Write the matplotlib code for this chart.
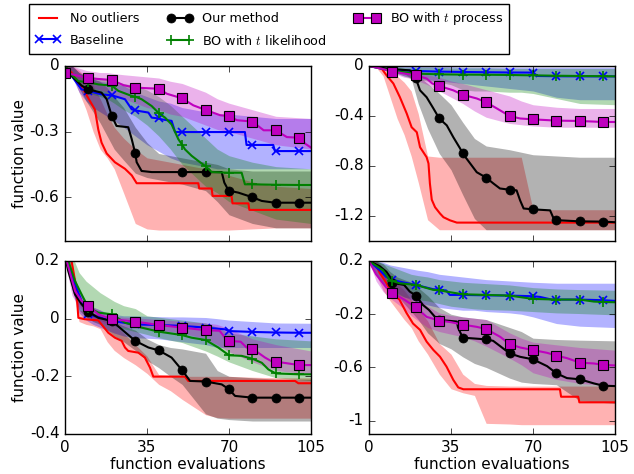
import numpy as np
import matplotlib.pyplot as plt
from matplotlib.ticker import FormatStrFormatter

# evaluation counts at which the shaded bands are sampled (shared by all panels)
BAND_X = [0, 3, 6, 9, 12, 15, 18, 21, 25, 30, 35, 40, 45, 50, 60, 65, 70, 80, 90, 105]

LABELS = ['No outliers', 'Baseline', 'Our method',
          'BO with $t$ likelihood', 'BO with $t$ process']

# ---------------- top left ----------------
A_RED_X = [0, 2.8, 8.5, 12.8, 14.2, 15.6, 17.8, 21.3, 25.6, 28.5, 30.6, 56.9, 57.3, 62.6, 63, 71.1, 71.5, 78.3, 78.7, 105]
A_RED_Y = [0, -0.03, -0.12, -0.2, -0.29, -0.35, -0.40, -0.44, -0.47, -0.50, -0.536, -0.536, -0.56, -0.56, -0.594, -0.594, -0.628, -0.628, -0.658, -0.658]
A_BLUE_X = [0, 2.8, 7.1, 10, 15.6, 20, 25.6, 28.5, 30, 35.6, 37, 40, 41.3, 45.5, 47, 50, 60, 70, 76.8, 77.5, 80, 88.9, 89.6, 90, 100, 105]
A_BLUE_Y = [0, -0.045, -0.107, -0.114, -0.13, -0.134, -0.152, -0.198, -0.203, -0.213, -0.236, -0.24, -0.244, -0.251, -0.302, -0.302, -0.302, -0.302, -0.302, -0.361, -0.361, -0.361, -0.389, -0.389, -0.389, -0.389]
A_BLACK_X = [0, 2.8, 7.1, 10, 15.6, 17.8, 20, 22, 27, 28.5, 30, 30.6, 32.7, 37, 50, 60, 66.9, 68, 69.7, 70, 74, 79.7, 80, 84, 89.6, 90, 100, 105]
A_BLACK_Y = [0, -0.045, -0.09, -0.107, -0.122, -0.152, -0.229, -0.274, -0.28, -0.335, -0.40, -0.44, -0.48, -0.485, -0.485, -0.485, -0.485, -0.533, -0.567, -0.57, -0.579, -0.599, -0.6, -0.617, -0.625, -0.625, -0.625, -0.625]
A_GREEN_X = [0, 2.8, 5.7, 10, 14.2, 20, 22.8, 28.5, 30, 32.7, 37, 39.8, 40, 42.7, 45.5, 48.4, 50, 51.2, 54.1, 56.9, 59.8, 60, 62.6, 70, 75.4, 76.8, 80, 90, 100, 105]
A_GREEN_Y = [0, -0.04, -0.069, -0.075, -0.084, -0.09, -0.114, -0.137, -0.14, -0.152, -0.183, -0.213, -0.216, -0.236, -0.267, -0.335, -0.36, -0.381, -0.411, -0.434, -0.457, -0.458, -0.485, -0.488, -0.488, -0.541, -0.541, -0.543, -0.544, -0.544]
A_MAG_X = [0, 10, 20, 25, 30, 40, 43.5, 50, 54.8, 60, 66.2, 70, 73.4, 80, 84.8, 90, 94.7, 100, 102.5, 105]
A_MAG_Y = [-0.03, -0.056, -0.064, -0.088, -0.099, -0.104, -0.127, -0.148, -0.18, -0.201, -0.225, -0.229, -0.248, -0.254, -0.294, -0.294, -0.325, -0.328, -0.355, -0.373]

A_RED_LO = [0, -0.04, -0.12, -0.2, -0.3, -0.38, -0.42, -0.47, -0.58, -0.72, -0.745, -0.75, -0.75, -0.75, -0.75, -0.75, -0.75, -0.745, -0.74, -0.74]
A_RED_HI = [0, 0, -0.02, -0.05, -0.09, -0.15, -0.22, -0.28, -0.33, -0.38, -0.42, -0.43, -0.44, -0.45, -0.47, -0.48, -0.5, -0.53, -0.55, -0.56]
A_BLUE_LO = [0, -0.05, -0.12, -0.16, -0.19, -0.21, -0.23, -0.25, -0.28, -0.32, -0.36, -0.39, -0.42, -0.44, -0.46, -0.47, -0.47, -0.47, -0.47, -0.47]
A_BLUE_HI = [0, 0, -0.03, -0.05, -0.06, -0.07, -0.075, -0.08, -0.09, -0.12, -0.14, -0.16, -0.17, -0.19, -0.21, -0.22, -0.22, -0.23, -0.24, -0.24]
A_BLACK_LO = [0, -0.03, -0.1, -0.16, -0.21, -0.26, -0.32, -0.38, -0.43, -0.49, -0.51, -0.52, -0.53, -0.54, -0.57, -0.62, -0.68, -0.72, -0.74, -0.74]
A_BLACK_HI = [0, 0, -0.03, -0.05, -0.06, -0.07, -0.1, -0.14, -0.19, -0.28, -0.35, -0.4, -0.41, -0.42, -0.44, -0.45, -0.47, -0.48, -0.48, -0.48]
A_GREEN_LO = [0, -0.04, -0.1, -0.12, -0.13, -0.14, -0.15, -0.17, -0.2, -0.23, -0.27, -0.32, -0.38, -0.45, -0.55, -0.58, -0.62, -0.66, -0.7, -0.72]
A_GREEN_HI = [0, 0, -0.03, -0.04, -0.05, -0.055, -0.06, -0.07, -0.08, -0.09, -0.11, -0.14, -0.18, -0.23, -0.33, -0.38, -0.41, -0.44, -0.46, -0.47]
A_MAG_LO = [-0.03, -0.05, -0.07, -0.09, -0.1, -0.11, -0.12, -0.13, -0.15, -0.17, -0.19, -0.2, -0.22, -0.23, -0.27, -0.29, -0.3, -0.33, -0.36, -0.38]
A_MAG_HI = [0, 0, -0.01, -0.02, -0.025, -0.03, -0.03, -0.035, -0.04, -0.045, -0.05, -0.055, -0.07, -0.08, -0.12, -0.15, -0.17, -0.2, -0.23, -0.24]

# ---------------- top right ----------------
B_RED_X = [0, 5, 7.5, 10.4, 13.2, 16.1, 18.2, 20.4, 21.8, 24.6, 25.4, 26, 26.8, 28.2, 30.3, 31.8, 34.6, 37.5, 105]
B_RED_Y = [0, -0.01, -0.075, -0.14, -0.25, -0.38, -0.49, -0.53, -0.65, -0.73, -0.78, -0.94, -1.07, -1.13, -1.18, -1.21, -1.235, -1.253, -1.253]
B_BLUE_X = [0, 5, 10, 14.7, 20, 30, 40, 50, 60, 70, 72, 80, 90, 100, 105]
B_BLUE_Y = [0, -0.02, -0.03, -0.035, -0.04, -0.045, -0.048, -0.05, -0.052, -0.053, -0.08, -0.082, -0.083, -0.083, -0.083]
B_BLACK_X = [0, 7.5, 10, 17.5, 20, 21.8, 24.6, 27.5, 30, 33.2, 36, 38.9, 40, 43.2, 46, 50, 53.1, 55.9, 60, 63, 64.5, 66, 70, 77.3, 78.8, 80, 81.5, 90, 100, 105]
B_BLACK_Y = [0, -0.02, -0.025, -0.035, -0.1, -0.195, -0.25, -0.34, -0.42, -0.475, -0.57, -0.66, -0.7, -0.78, -0.85, -0.893, -0.94, -0.98, -0.99, -0.995, -1.075, -1.14, -1.147, -1.155, -1.22, -1.23, -1.235, -1.243, -1.245, -1.25]
B_GREEN_X = [0, 5, 10, 15, 20, 30, 40, 50, 60, 70, 80, 90, 100, 105]
B_GREEN_Y = [0, -0.02, -0.04, -0.05, -0.061, -0.067, -0.069, -0.07, -0.072, -0.075, -0.078, -0.08, -0.082, -0.083]
B_MAG_X = [0, 5, 10, 15, 20, 24.6, 27, 30, 36, 40, 46, 50, 54.6, 60, 64.5, 70, 80, 90, 100, 105]
B_MAG_Y = [0, -0.02, -0.045, -0.06, -0.075, -0.10, -0.14, -0.16, -0.195, -0.23, -0.26, -0.29, -0.34, -0.40, -0.42, -0.427, -0.437, -0.44, -0.448, -0.448]

B_RED_LO = [0, -0.01, -0.08, -0.25, -0.42, -0.55, -0.72, -0.93, -1.23, -1.31, -1.31, -1.31, -1.31, -1.31, -1.31, -1.31, -1.31, -1.31, -1.31, -1.31]
B_RED_HI = [0, 0, -0.01, -0.04, -0.08, -0.13, -0.2, -0.38, -0.72, -0.73, -0.73, -0.73, -0.73, -0.73, -0.73, -0.73, -1.15, -1.15, -1.15, -1.15]
B_BLUE_LO = [0, 0, -0.02, -0.04, -0.06, -0.08, -0.09, -0.1, -0.11, -0.12, -0.13, -0.14, -0.15, -0.16, -0.18, -0.19, -0.2, -0.25, -0.27, -0.27]
B_BLUE_HI = [0, 0, 0, 0, 0, 0, 0, -0.005, -0.005, -0.005, -0.005, -0.01, -0.01, -0.01, -0.01, -0.01, -0.01, -0.01, -0.01, -0.01]
B_BLACK_LO = [0, -0.01, -0.02, -0.03, -0.04, -0.06, -0.1, -0.3, -0.5, -0.7, -0.83, -1.03, -1.22, -1.31, -1.31, -1.31, -1.31, -1.31, -1.31, -1.31]
B_BLACK_HI = [0, 0, -0.005, -0.01, -0.015, -0.02, -0.04, -0.08, -0.14, -0.22, -0.31, -0.45, -0.58, -0.64, -0.67, -0.69, -0.71, -0.72, -0.73, -0.73]
B_GREEN_LO = [0, 0, -0.02, -0.04, -0.06, -0.08, -0.1, -0.11, -0.12, -0.13, -0.15, -0.19, -0.2, -0.2, -0.21, -0.21, -0.22, -0.26, -0.3, -0.31]
B_GREEN_HI = [0, 0, 0, -0.005, -0.005, -0.01, -0.01, -0.01, -0.01, -0.01, -0.015, -0.015, -0.015, -0.015, -0.02, -0.02, -0.02, -0.02, -0.02, -0.02]
B_MAG_LO = [0, -0.01, -0.03, -0.05, -0.07, -0.09, -0.1, -0.12, -0.15, -0.2, -0.25, -0.3, -0.36, -0.41, -0.46, -0.47, -0.48, -0.49, -0.49, -0.49]
B_MAG_HI = [0, 0, -0.01, -0.02, -0.03, -0.04, -0.05, -0.06, -0.07, -0.09, -0.12, -0.14, -0.165, -0.19, -0.24, -0.28, -0.31, -0.33, -0.34, -0.34]

# ---------------- bottom left ----------------
C_RED_X = [0, 2.8, 4.3, 5, 5.7, 8.5, 14.2, 15.6, 18.5, 21.3, 24.2, 25.6, 27, 31.3, 34.1, 36.3, 37.7, 51.2, 52.6, 98.2, 99.6, 105]
C_RED_Y = [0.23, 0.2, 0.131, 0.084, 0.003, -0.002, -0.006, -0.02, -0.049, -0.066, -0.077, -0.1, -0.112, -0.118, -0.135, -0.17, -0.201, -0.201, -0.216, -0.216, -0.224, -0.224]
C_BLUE_X = [0, 2, 4.3, 7.1, 10, 20, 30, 40, 50, 60, 68.3, 70, 80, 90, 100, 105]
C_BLUE_Y = [0.22, 0.17, 0.12, 0.06, 0.015, -0.008, -0.02, -0.022, -0.025, -0.031, -0.037, -0.043, -0.046, -0.048, -0.049, -0.049]
C_BLACK_X = [0, 1.4, 4.3, 7.1, 10, 14.2, 20, 24.2, 30, 35.6, 40, 45.5, 50, 53.4, 60, 66.9, 70, 72.6, 80, 90, 100, 105]
C_BLACK_Y = [0.22, 0.165, 0.084, 0.05, 0.024, 0.003, -0.008, -0.037, -0.077, -0.1, -0.11, -0.135, -0.179, -0.216, -0.218, -0.228, -0.245, -0.268, -0.274, -0.274, -0.274, -0.274]
C_GREEN_X = [0, 1.4, 4.3, 7.1, 10, 14.2, 20, 25.6, 32.7, 40, 50, 54, 60, 65.4, 70, 75.4, 80, 84, 86.8, 90, 100, 105]
C_GREEN_Y = [0.24, 0.2, 0.13, 0.084, 0.038, 0.021, 0.015, -0.014, -0.031, -0.045, -0.057, -0.066, -0.074, -0.1, -0.127, -0.129, -0.139, -0.153, -0.176, -0.19, -0.193, -0.193]
C_MAG_X = [0, 1.4, 4.3, 7.1, 10, 14.2, 20, 30, 40, 50, 60, 66, 68.3, 70, 75, 77.5, 80, 85.4, 88, 90, 100, 105]
C_MAG_Y = [0.22, 0.18, 0.096, 0.061, 0.044, 0.015, -0.002, -0.01, -0.022, -0.031, -0.04, -0.042, -0.066, -0.077, -0.08, -0.1, -0.104, -0.135, -0.147, -0.149, -0.161, -0.161]

C_RED_LO = [0.25, 0.12, -0.01, -0.02, -0.025, -0.035, -0.08, -0.11, -0.135, -0.16, -0.19, -0.228, -0.25, -0.28, -0.333, -0.343, -0.345, -0.345, -0.345, -0.345]
C_RED_HI = [0.25, 0.2, 0.03, 0.022, 0.018, 0.012, 0, -0.02, -0.05, -0.09, -0.13, -0.194, -0.197, -0.2, -0.2, -0.2, -0.2, -0.203, -0.205, -0.205]
C_BLUE_LO = [0.25, 0.1, 0.02, -0.005, -0.02, -0.03, -0.04, -0.05, -0.06, -0.066, -0.068, -0.07, -0.075, -0.08, -0.09, -0.1, -0.1, -0.1, -0.1, -0.1]
C_BLUE_HI = [0.25, 0.17, 0.1, 0.06, 0.04, 0.03, 0.02, 0.015, 0.01, 0.01, 0.008, 0.007, 0.006, 0.006, 0.004, 0, -0.005, -0.01, -0.015, -0.016]
C_BLACK_LO = [0.25, 0.1, 0.03, 0.005, -0.01, -0.02, -0.04, -0.06, -0.08, -0.11, -0.145, -0.17, -0.2, -0.228, -0.33, -0.345, -0.35, -0.355, -0.355, -0.355]
C_BLACK_HI = [0.25, 0.15, 0.07, 0.035, 0.02, 0.01, 0, -0.01, -0.025, -0.04, -0.07, -0.09, -0.1, -0.105, -0.12, -0.18, -0.2, -0.205, -0.21, -0.21]
C_GREEN_LO = [0.25, 0.12, 0.05, 0.02, 0.005, -0.005, -0.015, -0.025, -0.035, -0.045, -0.055, -0.066, -0.075, -0.083, -0.112, -0.13, -0.15, -0.18, -0.205, -0.215]
C_GREEN_HI = [0.25, 0.22, 0.16, 0.13, 0.11, 0.09, 0.075, 0.06, 0.045, 0.035, 0.01, 0.005, 0, -0.005, -0.015, -0.03, -0.05, -0.06, -0.07, -0.077]
C_MAG_LO = [0.2, 0.08, 0.04, 0.02, 0, -0.01, -0.02, -0.025, -0.03, -0.033, -0.036, -0.04, -0.045, -0.05, -0.07, -0.09, -0.115, -0.15, -0.18, -0.193]
C_MAG_HI = [0.25, 0.17, 0.1, 0.06, 0.04, 0.03, 0.015, 0.008, 0.005, 0.003, 0, -0.003, -0.006, -0.01, -0.015, -0.02, -0.035, -0.07, -0.09, -0.112]

# ---------------- bottom right ----------------
D_RED_X = [0, 3, 4.6, 7.4, 9.6, 13, 16, 18.8, 21.8, 24.6, 27.5, 30.3, 33.1, 36, 38.1, 40.3, 81.5, 82, 89.3, 89.8, 105]
D_RED_Y = [0.2, 0.17, 0.11, 0.035, -0.04, -0.09, -0.19, -0.27, -0.318, -0.406, -0.469, -0.519, -0.594, -0.694, -0.75, -0.764, -0.764, -0.82, -0.82, -0.862, -0.862]
D_BLUE_X = [0, 4.6, 7.4, 10, 13, 20, 27.4, 30, 33, 34.5, 40, 50, 60, 70, 73, 78, 80, 90, 100, 105]
D_BLUE_Y = [0.2, 0.13, 0.08, 0.06, 0.045, 0.02, -0.012, -0.015, -0.022, -0.055, -0.055, -0.058, -0.06, -0.065, -0.07, -0.09, -0.09, -0.09, -0.095, -0.1]
D_BLACK_X = [0, 4.6, 7.4, 9, 10, 15, 17.4, 20, 23, 25.6, 28.9, 30, 37.5, 38, 40, 50, 53, 56, 60, 64.5, 70, 76, 80, 84.5, 90, 96, 100, 105]
D_BLACK_Y = [0.2, 0.16, 0.12, 0.08, 0.035, 0.02, -0.03, -0.06, -0.13, -0.168, -0.235, -0.243, -0.255, -0.3, -0.376, -0.389, -0.40, -0.44, -0.494, -0.52, -0.539, -0.59, -0.644, -0.68, -0.689, -0.72, -0.737, -0.74]
D_GREEN_X = [0, 6, 8.8, 10, 13, 20, 27.4, 30, 33, 40, 50, 60, 70, 80, 90, 96, 100, 105]
D_GREEN_Y = [0.2, 0.13, 0.058, 0.05, 0.033, 0.02, -0.017, -0.02, -0.03, -0.05, -0.055, -0.06, -0.085, -0.09, -0.09, -0.105, -0.108, -0.11]
D_MAG_X = [0, 3, 7.4, 10, 15, 20, 24.6, 30, 35, 40, 46, 50, 56, 60, 64.5, 70, 76, 80, 84.5, 90, 96, 100, 105]
D_MAG_Y = [0.2, 0.1, 0.0, -0.038, -0.09, -0.148, -0.22, -0.248, -0.26, -0.278, -0.295, -0.311, -0.37, -0.424, -0.45, -0.469, -0.49, -0.511, -0.53, -0.564, -0.57, -0.581, -0.585]

D_RED_LO = [0.2, 0.1, -0.02, -0.1, -0.17, -0.24, -0.3, -0.4, -0.5, -0.65, -0.76, -0.79, -0.81, -1.02, -1.025, -1.03, -1.03, -1.03, -1.03, -1.03]
D_RED_HI = [0.2, 0.2, 0.15, 0.08, 0.03, -0.02, -0.09, -0.16, -0.25, -0.42, -0.5, -0.65, -0.72, -0.735, -0.74, -0.74, -0.74, -0.74, -0.74, -0.74]
D_BLUE_LO = [0.2, 0.1, 0.03, -0.01, -0.04, -0.07, -0.09, -0.11, -0.13, -0.15, -0.16, -0.17, -0.17, -0.18, -0.19, -0.2, -0.22, -0.27, -0.29, -0.3]
D_BLUE_HI = [0.2, 0.2, 0.19, 0.17, 0.16, 0.15, 0.14, 0.13, 0.12, 0.1, 0.09, 0.08, 0.07, 0.06, 0.05, 0.045, 0.04, 0.033, 0.033, 0.033]
D_BLACK_LO = [0.2, 0.15, 0.08, 0, -0.06, -0.12, -0.18, -0.24, -0.34, -0.42, -0.46, -0.52, -0.57, -0.6, -0.68, -0.71, -0.72, -0.73, -0.85, -0.87]
D_BLACK_HI = [0.2, 0.2, 0.18, 0.12, 0.08, 0.06, 0.04, 0, -0.06, -0.15, -0.2, -0.22, -0.23, -0.24, -0.3, -0.33, -0.38, -0.39, -0.395, -0.4]
D_GREEN_LO = [0.2, 0.1, 0.03, -0.02, -0.05, -0.07, -0.08, -0.09, -0.1, -0.12, -0.14, -0.15, -0.16, -0.165, -0.17, -0.175, -0.18, -0.19, -0.195, -0.205]
D_GREEN_HI = [0.2, 0.2, 0.18, 0.16, 0.14, 0.12, 0.1, 0.09, 0.08, 0.06, 0.05, 0.04, 0.035, 0.03, 0.02, 0.01, 0, -0.01, -0.015, -0.02]
D_MAG_LO = [0.2, 0.05, -0.03, -0.08, -0.12, -0.16, -0.21, -0.25, -0.3, -0.33, -0.35, -0.37, -0.4, -0.44, -0.53, -0.58, -0.64, -0.69, -0.72, -0.74]
D_MAG_HI = [0.2, 0.19, 0.14, 0.1, 0.05, 0.01, -0.04, -0.08, -0.14, -0.19, -0.21, -0.22, -0.23, -0.24, -0.34, -0.38, -0.41, -0.43, -0.45, -0.47]

X_TICKS = [0, 35, 70, 105]
A_YTICKS = [0, -0.3, -0.6]
B_YTICKS = [0, -0.4, -0.8, -1.2]
C_YTICKS = [0.2, 0, -0.2, -0.4]
D_YTICKS = [0.2, -0.2, -0.6, -1]

plt.style.use('classic')
plt.rcParams['figure.facecolor'] = 'white'
plt.rcParams['savefig.facecolor'] = 'white'
plt.rcParams['font.size'] = 11
plt.rcParams['axes.unicode_minus'] = False

# line style per method: red, blue, black, green, magenta
STYLES = [
    dict(color='r'),
    dict(color='b', marker='x', ms=6, mew=1.2),
    dict(color='k', marker='o', ms=6.5),
    dict(color='g', marker='+', ms=7, mew=1.2),
    dict(color='m', marker='s', ms=6.5, mec='k', mew=0.8),
]

panels = [
    # rect, lines, bands, ylim, yticks
    ([0.1025, 0.4916, 0.388, 0.3692],
     [(A_RED_X, A_RED_Y), (A_BLUE_X, A_BLUE_Y), (A_BLACK_X, A_BLACK_Y), (A_GREEN_X, A_GREEN_Y), (A_MAG_X, A_MAG_Y)],
     [(A_RED_LO, A_RED_HI), (A_BLUE_LO, A_BLUE_HI), (A_BLACK_LO, A_BLACK_HI), (A_GREEN_LO, A_GREEN_HI), (A_MAG_LO, A_MAG_HI)],
     (-0.8, 0), A_YTICKS),
    ([0.582, 0.4916, 0.388, 0.3692],
     [(B_RED_X, B_RED_Y), (B_BLUE_X, B_BLUE_Y), (B_BLACK_X, B_BLACK_Y), (B_GREEN_X, B_GREEN_Y), (B_MAG_X, B_MAG_Y)],
     [(B_RED_LO, B_RED_HI), (B_BLUE_LO, B_BLUE_HI), (B_BLACK_LO, B_BLACK_HI), (B_GREEN_LO, B_GREEN_HI), (B_MAG_LO, B_MAG_HI)],
     (-1.4, 0), B_YTICKS),
    ([0.1025, 0.0844, 0.388, 0.365],
     [(C_RED_X, C_RED_Y), (C_BLUE_X, C_BLUE_Y), (C_BLACK_X, C_BLACK_Y), (C_GREEN_X, C_GREEN_Y), (C_MAG_X, C_MAG_Y)],
     [(C_RED_LO, C_RED_HI), (C_BLUE_LO, C_BLUE_HI), (C_BLACK_LO, C_BLACK_HI), (C_GREEN_LO, C_GREEN_HI), (C_MAG_LO, C_MAG_HI)],
     (-0.4, 0.2), C_YTICKS),
    ([0.582, 0.0844, 0.388, 0.365],
     [(D_RED_X, D_RED_Y), (D_BLUE_X, D_BLUE_Y), (D_BLACK_X, D_BLACK_Y), (D_GREEN_X, D_GREEN_Y), (D_MAG_X, D_MAG_Y)],
     [(D_RED_LO, D_RED_HI), (D_BLUE_LO, D_BLUE_HI), (D_BLACK_LO, D_BLACK_HI), (D_GREEN_LO, D_GREEN_HI), (D_MAG_LO, D_MAG_HI)],
     (-1.1, 0.2), D_YTICKS),
]

# only the top-left "t process" curve shows a marker at 0 evaluations
MARK_AT_ZERO = [(0, 4)]

fig = plt.figure(figsize=(6.34, 4.74), dpi=100)
handles = None
for i, (rect, lines, bands, ylim, yticks) in enumerate(panels):
    ax = fig.add_axes(rect)
    for (lo, hi), st in zip(bands, STYLES):
        ax.fill_between(BAND_X, lo, hi, color=st['color'], alpha=0.3, lw=0)
    hs = []
    for j, ((x, y), st) in enumerate(zip(lines, STYLES)):
        x = np.asarray(x, dtype=float)
        # markers every 10 evaluations
        first = 0 if (i, j) in MARK_AT_ZERO else 10
        mark = np.isclose(np.mod(x, 10), 0) & (x <= 100) & (x >= first)
        h, = ax.plot(x, y, lw=1.5, markevery=list(mark), **st)
        hs.append(h)
    if handles is None:
        handles = hs
    ax.set_xlim(0, 105)
    ax.set_ylim(*ylim)
    ax.set_xticks(X_TICKS)
    ax.set_yticks(yticks)
    ax.yaxis.set_major_formatter(FormatStrFormatter('%g'))
    if i < 2:
        ax.set_xticklabels([])
    else:
        ax.set_xlabel('function evaluations', labelpad=2)
    if i % 2 == 0:
        ax.set_ylabel('function value', labelpad=2)

fig.legend(handles, LABELS, ncol=3, loc='upper left',
           bbox_to_anchor=(29 / 634, 1 - 4 / 474), borderaxespad=0,
           fontsize=9.2, handlelength=2.0, columnspacing=2.15,
           handletextpad=0.75, labelspacing=0.7, borderpad=0.47, frameon=True)

fig.savefig('out.png', dpi=100)
